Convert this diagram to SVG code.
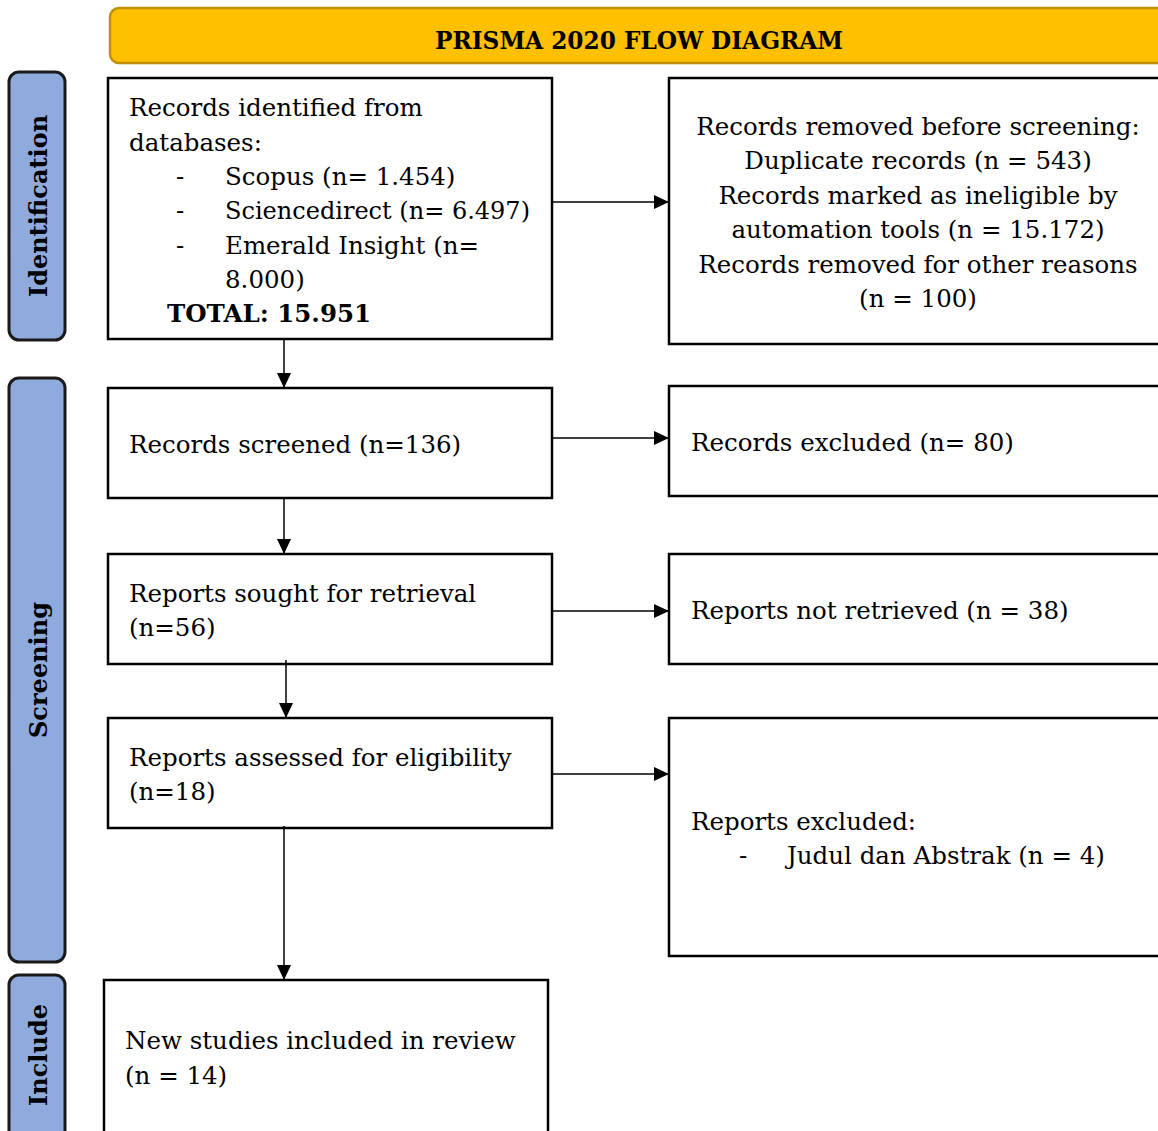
<svg xmlns="http://www.w3.org/2000/svg" width="1158" height="1131" viewBox="0 0 1158 1131">
<defs>
<marker id="ah" markerUnits="userSpaceOnUse" markerWidth="16" markerHeight="14" refX="15" refY="7" orient="auto">
<path d="M0,0 L15,7 L0,14 Z" fill="#000"/>
</marker>
<style>
.box{fill:#fff;stroke:#000;stroke-width:2.5}
.side{fill:#8FAADC;stroke:#1a1a1a;stroke-width:3}
.t{font-family:"DejaVu Serif","Liberation Serif",serif;font-size:24.5px;fill:#000}
.b{font-family:"DejaVu Serif","Liberation Serif",serif;font-weight:bold;fill:#000}
.c{text-anchor:middle}
.con{stroke:#000;stroke-width:1.5;fill:none;marker-end:url(#ah)}
</style>
</defs>
<rect width="1158" height="1131" fill="#fff"/>
<g id="title">
<rect x="110" y="8" width="1058" height="55" rx="9" fill="#FFC000" stroke="#BF9000" stroke-width="2.5"/>
<text class="b c" x="639" y="49" font-size="24" textLength="408" lengthAdjust="spacingAndGlyphs">PRISMA 2020 FLOW DIAGRAM</text>
</g>
<g id="lbl-identification">
<rect class="side" x="9" y="72" width="56" height="268" rx="10"/>
<text class="b c" font-size="24" transform="translate(47,206) rotate(-90)">Identification</text>
</g>
<g id="lbl-screening">
<rect class="side" x="9" y="378" width="56" height="584" rx="10"/>
<text class="b c" font-size="24" transform="translate(47,670) rotate(-90)">Screening</text>
</g>
<g id="lbl-include">
<rect class="side" x="9" y="975" width="56" height="170" rx="10"/>
<text class="b c" font-size="24" transform="translate(47,1055) rotate(-90)">Include</text>
</g>
<g id="identified">
<rect class="box" x="108" y="78" width="444" height="261"/>
<text class="t" x="129" y="116">Records identified from</text>
<text class="t" x="129" y="151">databases:</text>
<text class="t" x="176" y="185">-</text>
<text class="t" x="225" y="185">Scopus (n= 1.454)</text>
<text class="t" x="176" y="219">-</text>
<text class="t" x="225" y="219" textLength="305" lengthAdjust="spacingAndGlyphs">Sciencedirect (n= 6.497)</text>
<text class="t" x="176" y="254">-</text>
<text class="t" x="225" y="254">Emerald Insight (n=</text>
<text class="t" x="225" y="288">8.000)</text>
<text class="b" font-size="24.5" x="167" y="322">TOTAL: 15.951</text>
</g>
<g id="removed">
<rect class="box" x="669" y="78" width="498" height="266"/>
<text class="t c" x="918" y="135">Records removed before screening:</text>
<text class="t c" x="918" y="169">Duplicate records (n = 543)</text>
<text class="t c" x="918" y="204">Records marked as ineligible by</text>
<text class="t c" x="918" y="238">automation tools (n = 15.172)</text>
<text class="t c" x="918" y="273">Records removed for other reasons</text>
<text class="t c" x="918" y="307">(n = 100)</text>
</g>
<g id="screened">
<rect class="box" x="108" y="388" width="444" height="110"/>
<text class="t" x="129" y="453">Records screened (n=136)</text>
</g>
<g id="excluded">
<rect class="box" x="669" y="386" width="498" height="110"/>
<text class="t" x="691" y="451">Records excluded (n= 80)</text>
</g>
<g id="sought">
<rect class="box" x="108" y="554" width="444" height="110"/>
<text class="t" x="129" y="602">Reports sought for retrieval</text>
<text class="t" x="129" y="636">(n=56)</text>
</g>
<g id="notretrieved">
<rect class="box" x="669" y="554" width="498" height="110"/>
<text class="t" x="691" y="619">Reports not retrieved (n = 38)</text>
</g>
<g id="assessed">
<rect class="box" x="108" y="718" width="444" height="110"/>
<text class="t" x="129" y="766">Reports assessed for eligibility</text>
<text class="t" x="129" y="800">(n=18)</text>
</g>
<g id="reportsexcluded">
<rect class="box" x="669" y="718" width="498" height="238"/>
<text class="t" x="691" y="830">Reports excluded:</text>
<text class="t" x="739" y="864">-</text>
<text class="t" x="787" y="864">Judul dan Abstrak (n = 4)</text>
</g>
<g id="included">
<rect class="box" x="104" y="980" width="444" height="170"/>
<text class="t" x="125" y="1049">New studies included in review</text>
<text class="t" x="125" y="1084">(n = 14)</text>
</g>
<g id="connectors">
<line class="con" x1="552" y1="202" x2="669" y2="202"/>
<line class="con" x1="284" y1="339" x2="284" y2="388"/>
<line class="con" x1="552" y1="438" x2="669" y2="438"/>
<line class="con" x1="284" y1="498" x2="284" y2="554"/>
<line class="con" x1="552" y1="611" x2="669" y2="611"/>
<line class="con" x1="286" y1="660" x2="286" y2="718"/>
<line class="con" x1="552" y1="774" x2="669" y2="774"/>
<line class="con" x1="284" y1="826" x2="284" y2="980"/>
</g>
</svg>
